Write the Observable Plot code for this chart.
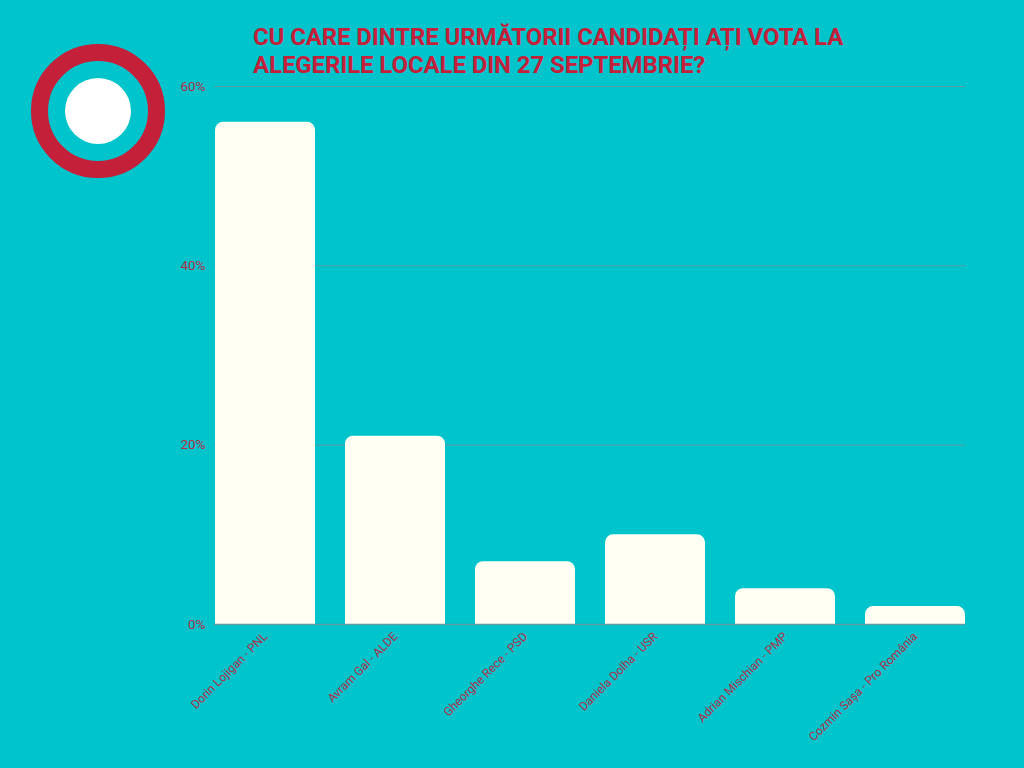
<!DOCTYPE html>
<html>
<head>
<meta charset="utf-8">
<script src="https://cdn.jsdelivr.net/npm/d3@7"></script>
<script src="https://cdn.jsdelivr.net/npm/@observablehq/plot@0.6"></script>
<style>
  html, body { margin: 0; padding: 0; background: #00c4cc; }
  #wrap { position: relative; width: 1024px; height: 768px; overflow: hidden; background: #00c4cc; }
  #title { position: absolute; left: 253px; top: 23px; margin: 0; font-family: Roboto, "Noto Sans", sans-serif; font-weight: 700; font-size: 24px; line-height: 28px; color: #c4203a; letter-spacing: -0.1px; white-space: nowrap; }
  #logo { position: absolute; left: 0; top: 0; }
  #chart { position: absolute; left: 0; top: 0; }
</style>
</head>
<body>
<div id="wrap">
  <svg id="logo" width="200" height="200">
    <circle cx="98" cy="111" r="58.5" fill="none" stroke="#c4203a" stroke-width="17"></circle>
    <circle cx="98" cy="111" r="33" fill="#ffffff"></circle>
  </svg>
  <div id="chart"></div>
  <h1 id="title">CU CARE DINTRE URMĂTORII CANDIDAȚI AȚI VOTA LA<br>ALEGERILE LOCALE DIN 27 SEPTEMBRIE?</h1>
</div>
<script>
const candidates = ["Dorin Lojigan - PNL", "Avram Gal - ALDE", "Gheorghe Rece - PSD", "Daniela Dolha - USR", "Adrian Mischian - PMP", "Cozmin Sașa - Pro România"];
const percents = [56, 21, 7, 10, 4, 2];
const yTicks = [0, 20, 40, 60];

const data = candidates.map((c, i) => ({candidate: c, value: percents[i]}));
const labelColor = "#b0304a";

const chart = Plot.plot({
  width: 1024,
  height: 768,
  marginLeft: 214,
  marginRight: 59,
  marginTop: 86,
  marginBottom: 144,
  style: { background: "transparent", fontFamily: "Roboto, 'Noto Sans', sans-serif", fontSize: "13px", color: labelColor },
  x: { domain: candidates, paddingInner: 0.234, paddingOuter: 0, label: null },
  y: { domain: [0, 60], ticks: yTicks, label: null },
  marks: [
    Plot.ruleY(yTicks, { stroke: "#5a9ca3", strokeWidth: 1 }),
    Plot.barY(data, { x: "candidate", y: "value", fill: "#fffff3", rx: 8, insetBottom: -12, clip: true }),
    Plot.ruleY([0], { stroke: "#5a9ca3", strokeWidth: 1.5 }),
    Plot.axisY(yTicks, { tickSize: 0, tickPadding: 9, tickFormat: d => d + "%", fontSize: 13.5, fill: labelColor, label: null }),
    Plot.axisX({ tickSize: 0, tickRotate: -45, tickPadding: 10, fontSize: 12, fill: labelColor, label: null })
  ]
});
document.getElementById("chart").appendChild(chart);
</script>
</body>
</html>
